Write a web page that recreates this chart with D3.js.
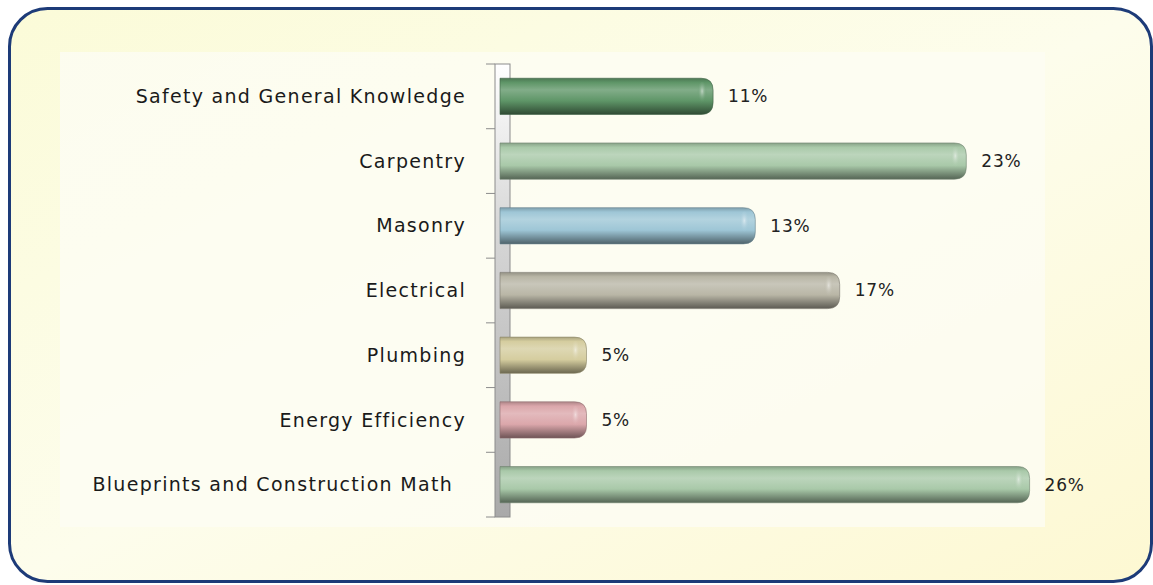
<!DOCTYPE html>
<html>
<head>
<meta charset="utf-8">
<script src="https://cdn.jsdelivr.net/npm/d3@7"></script>
<style>
  html,body{margin:0;padding:0;background:#fff;}
  svg{display:block;}
</style>
</head>
<body>
<svg id="chart" width="1153" height="585"></svg>
<script>
// chart data, top to bottom
const categories = [
  "Safety and General Knowledge",
  "Carpentry",
  "Masonry",
  "Electrical",
  "Plumbing",
  "Energy Efficiency",
  "Blueprints and Construction Math"
];
const values = [11, 23, 13, 17, 5, 5, 26];
const barColors = ["#5f9668", "#a9c9a9", "#9ec6d6", "#b9b6a6", "#d5cd9f", "#dba7ab", "#a9c9a9"];

const svg = d3.select('#chart');
const defs = svg.append('defs');

// outer panel gradient
const bg = defs.append('linearGradient').attr('id','bg')
  .attr('x1','0').attr('y1','0').attr('x2','1').attr('y2','1');
bg.append('stop').attr('offset','0%').attr('stop-color','#fbfbd8');
bg.append('stop').attr('offset','50%').attr('stop-color','#fdfdec');
bg.append('stop').attr('offset','100%').attr('stop-color','#fdf8d2');

svg.append('rect')
  .attr('x',9.5).attr('y',8.5)
  .attr('width',1142).attr('height',573)
  .attr('rx',38).attr('ry',38)
  .attr('fill','url(#bg)')
  .attr('stroke','#1d3b78')
  .attr('stroke-width',3);

// plot area
const plot = {left:60, top:52, right:1045, bottom:527};
svg.append('rect')
  .attr('x',plot.left).attr('y',plot.top)
  .attr('width',plot.right-plot.left).attr('height',plot.bottom-plot.top)
  .attr('fill','#fdfdf4').attr('opacity',0.8);

const y = d3.scaleBand()
  .domain(categories)
  .range([64, 517])
  .paddingInner(0.44)
  .paddingOuter(0.22);

const x = d3.scaleLinear().domain([0, 28]).range([481, 481 + 28*21.1]);
const wallX = 495, wallW = 15, barStart = 500;

// wall gradient
const wg = defs.append('linearGradient').attr('id','wall')
  .attr('x1','0').attr('y1','0').attr('x2','0').attr('y2','1');
wg.append('stop').attr('offset','0%').attr('stop-color','#ffffff');
wg.append('stop').attr('offset','35%').attr('stop-color','#d8d8d8');
wg.append('stop').attr('offset','100%').attr('stop-color','#a9a9a9');

const yTop = y.range()[0], yBot = y.range()[1];
svg.append('rect')
  .attr('x',wallX).attr('y',yTop)
  .attr('width',wallW).attr('height',yBot-yTop)
  .attr('fill','url(#wall)')
  .attr('stroke','#8c8c8c').attr('stroke-width',1);

// tick marks at band boundaries
const tickYs = d3.range(categories.length+1).map(i => yTop + i*(yBot-yTop)/categories.length);
svg.append('g').selectAll('line')
  .data(tickYs)
  .join('line')
  .attr('x1',486).attr('x2',wallX)
  .attr('y1',d=>d).attr('y2',d=>d)
  .attr('stroke','#8c8c8c').attr('stroke-width',1);

// cylinder gradients per bar
barColors.forEach((c,i)=>{
  const base = d3.color(c);
  const g = defs.append('linearGradient').attr('id','bar'+i)
    .attr('x1','0').attr('y1','0').attr('x2','0').attr('y2','1');
  g.append('stop').attr('offset','0%').attr('stop-color',d3.interpolateRgb(base,'#000')(0.2));
  g.append('stop').attr('offset','12%').attr('stop-color',base.formatHex());
  g.append('stop').attr('offset','32%').attr('stop-color',d3.interpolateRgb(base,'#fff')(0.22));
  g.append('stop').attr('offset','62%').attr('stop-color',base.formatHex());
  g.append('stop').attr('offset','100%').attr('stop-color',d3.interpolateRgb(base,'#000')(0.5));
  const cg = defs.append('radialGradient').attr('id','cap'+i)
    .attr('cx','0.5').attr('cy','0.4').attr('r','0.5');
  cg.append('stop').attr('offset','0%').attr('stop-color',d3.interpolateRgb(base,'#fff')(0.6));
  cg.append('stop').attr('offset','100%').attr('stop-color',d3.interpolateRgb(base,'#fff')(0)).attr('stop-opacity',0);
});

const bh = y.bandwidth();
const bars = svg.append('g').selectAll('g')
  .data(categories.map((c,i)=>({c, v:values[i], i})))
  .join('g');

bars.append('path')
  .attr('d', d=>{
    const x0 = barStart, x1 = x(d.v), y0 = y(d.c), r = 12;
    return `M${x0},${y0} L${x1-r},${y0} Q${x1},${y0} ${x1},${y0+r} L${x1},${y0+bh-r} Q${x1},${y0+bh} ${x1-r},${y0+bh} L${x0},${y0+bh} Z`;
  })
  .attr('fill', d=>`url(#bar${d.i})`)
  .attr('stroke', d=>d3.interpolateRgb(barColors[d.i],'#000')(0.35))
  .attr('stroke-width',0.6);

bars.append('ellipse')
  .attr('cx', d=>x(d.v)-11)
  .attr('cy', d=>y(d.c)+bh*0.42)
  .attr('rx',5).attr('ry',bh*0.32)
  .attr('fill', d=>`url(#cap${d.i})`);

// value labels
bars.append('text')
  .attr('x', d=>x(d.v)+15)
  .attr('y', d=>y(d.c)+bh/2)
  .attr('dy','0.35em')
  .attr('font-family','"DejaVu Sans", sans-serif')
  .attr('font-size',17)
  .attr('letter-spacing',0.8)
  .attr('fill','#222')
  .text(d=>d.v+'%');

// category labels
svg.append('g').selectAll('text')
  .data(categories)
  .join('text')
  .attr('x', d=> d.startsWith('Blueprints') ? 453 : 466)
  .attr('y', d=>y(d)+bh/2)
  .attr('dy','0.35em')
  .attr('text-anchor','end')
  .attr('font-family','"DejaVu Sans", sans-serif')
  .attr('font-size',19)
  .attr('letter-spacing',1.3)
  .attr('fill','#1a1a1a')
  .text(d=>d);
</script>
</body>
</html>
